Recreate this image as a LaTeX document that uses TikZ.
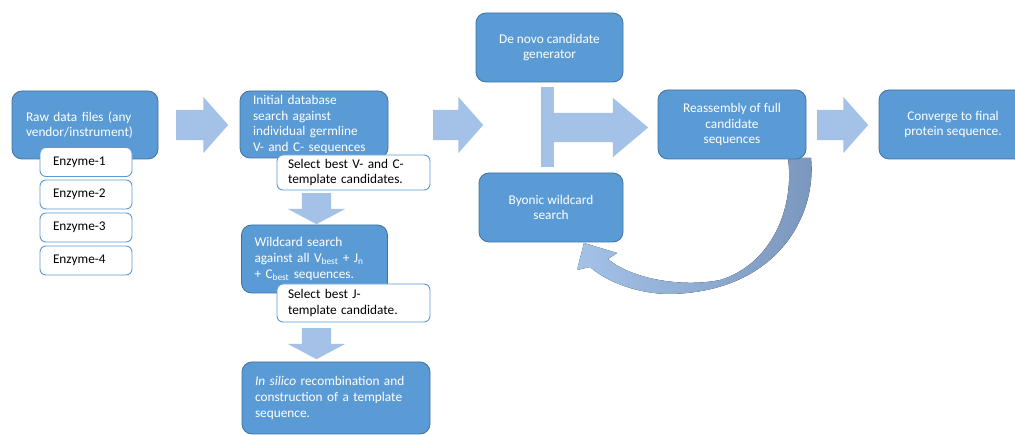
\documentclass[tikz,border=0pt]{standalone}
\usepackage{fontspec}
\setmainfont{Carlito}
\usetikzlibrary{shapes.arrows}
\definecolor{boxblue}{RGB}{91,155,213}
\definecolor{boxedge}{RGB}{65,113,156}
\definecolor{arrowblue}{RGB}{164,194,232}
\definecolor{arcdark}{RGB}{122,150,188}
\begin{document}
\begin{tikzpicture}[x=1pt,y=-1pt,
    stage/.style={draw=boxedge, fill=boxblue, line width=0.8pt, rounded corners=10pt,
        text=white, font=\fontsize{13.3}{15.7}\selectfont, inner sep=0pt},
    note/.style={draw=boxblue, fill=white, line width=0.9pt, rounded corners=6pt,
        text=black, font=\fontsize{13.3}{15.7}\selectfont, inner sep=0pt, align=left},
    fatarrow/.style={single arrow, fill=arrowblue, inner xsep=0pt, inner ysep=15pt, anchor=tail,
        minimum width=56pt, single arrow head extend=13pt, single arrow tip angle=97},
    downarrow/.style={fatarrow, shape border rotate=270, minimum width=57pt,
        inner xsep=14.5pt, inner ysep=0pt, single arrow head extend=14pt, single arrow tip angle=124}]
\useasboundingbox (0,0) rectangle (1015,435);

% curved arrow back from reassembly to byonic search
\fill[left color=arrowblue, right color=arcdark] (788,158) -- (811,158)
    .. controls (817,218) and (775,292) .. (670,294)
    .. controls (640,294) and (608,283) .. (590,267)
    -- (577,270) -- (584,243) -- (617,253) -- (608,259)
    .. controls (630,278) and (680,288) .. (720,280)
    .. controls (770,265) and (795,210) .. (788,158) -- cycle;

% raw data and the enzymes
\node[stage, text width=118pt, inner xsep=14pt, minimum height=68pt, align=left] (raw) at (85,125)
    {Raw data files (any\\vendor/instrument)};
\foreach \i/\y in {1/162,2/194.5,3/227.5,4/260.5}
    \node[note, text width=66pt, inner xsep=13pt, minimum height=29pt] (enz\i) at (86,\y) {Enzyme-\i};

% template branch
\node[stage, text width=122pt, inner xsep=13pt, minimum height=67pt, align=left] (init) at (314,124.5)
    {Initial database\\search against\\individual germline\\V- and C- sequences};
\node[note, text width=131pt, inner xsep=11pt, minimum height=35pt] (selvc) at (353.5,172.5)
    {Select best V- and C-\\template candidates.};
\node[stage, text width=120pt, inner xsep=13pt, minimum height=68pt, align=left] (wild) at (314.5,259)
    {Wildcard search\\against all V\textsubscript{best} + J\textsubscript{n}\\+ C\textsubscript{best} sequences.};
\node[note, text width=131pt, inner xsep=11pt, minimum height=38pt] (selj) at (353.5,303)
    {Select best J-\\template candidate.};
\node[stage, text width=162pt, inner xsep=13pt, minimum height=72pt, align=left] (silico) at (336,398)
    {\textit{In silico} recombination and\\construction of a template\\sequence.};

% de novo side
\node[stage, minimum width=147pt, minimum height=69pt, align=center] (denovo) at (549.5,47.5)
    {De novo candidate\\generator};
\node[stage, minimum width=144pt, minimum height=69pt, align=center] (byonic) at (551,207.5)
    {Byonic wildcard\\search};
\node[stage, minimum width=148pt, minimum height=69pt, align=center] (reasm) at (732,124.5)
    {Reassembly of full\\candidate\\sequences};
\node[stage, minimum width=148pt, minimum height=69pt, align=center] (conv) at (953,124.5)
    {Converge to final\\protein sequence.};

% block arrows
\node[fatarrow, minimum height=52pt] (arr1) at (176,125) {};
\node[fatarrow, minimum height=50pt] (arr2) at (433,125) {};
\node[fatarrow, minimum height=51pt] (arr3) at (817,125) {};
\node[downarrow, minimum height=31pt] (down1) at (316.5,193) {};
\node[downarrow, minimum height=31pt] (down2) at (316.5,328) {};
\node[fill=arrowblue, inner sep=0pt, minimum width=13pt, minimum height=80pt] (tbar) at (547.5,127) {};
\node[fatarrow, minimum height=94pt, minimum width=59pt, inner ysep=14.5pt,
    single arrow head extend=15pt, single arrow tip angle=80] (tarrow) at (554,127.5) {};
\end{tikzpicture}
\end{document}
